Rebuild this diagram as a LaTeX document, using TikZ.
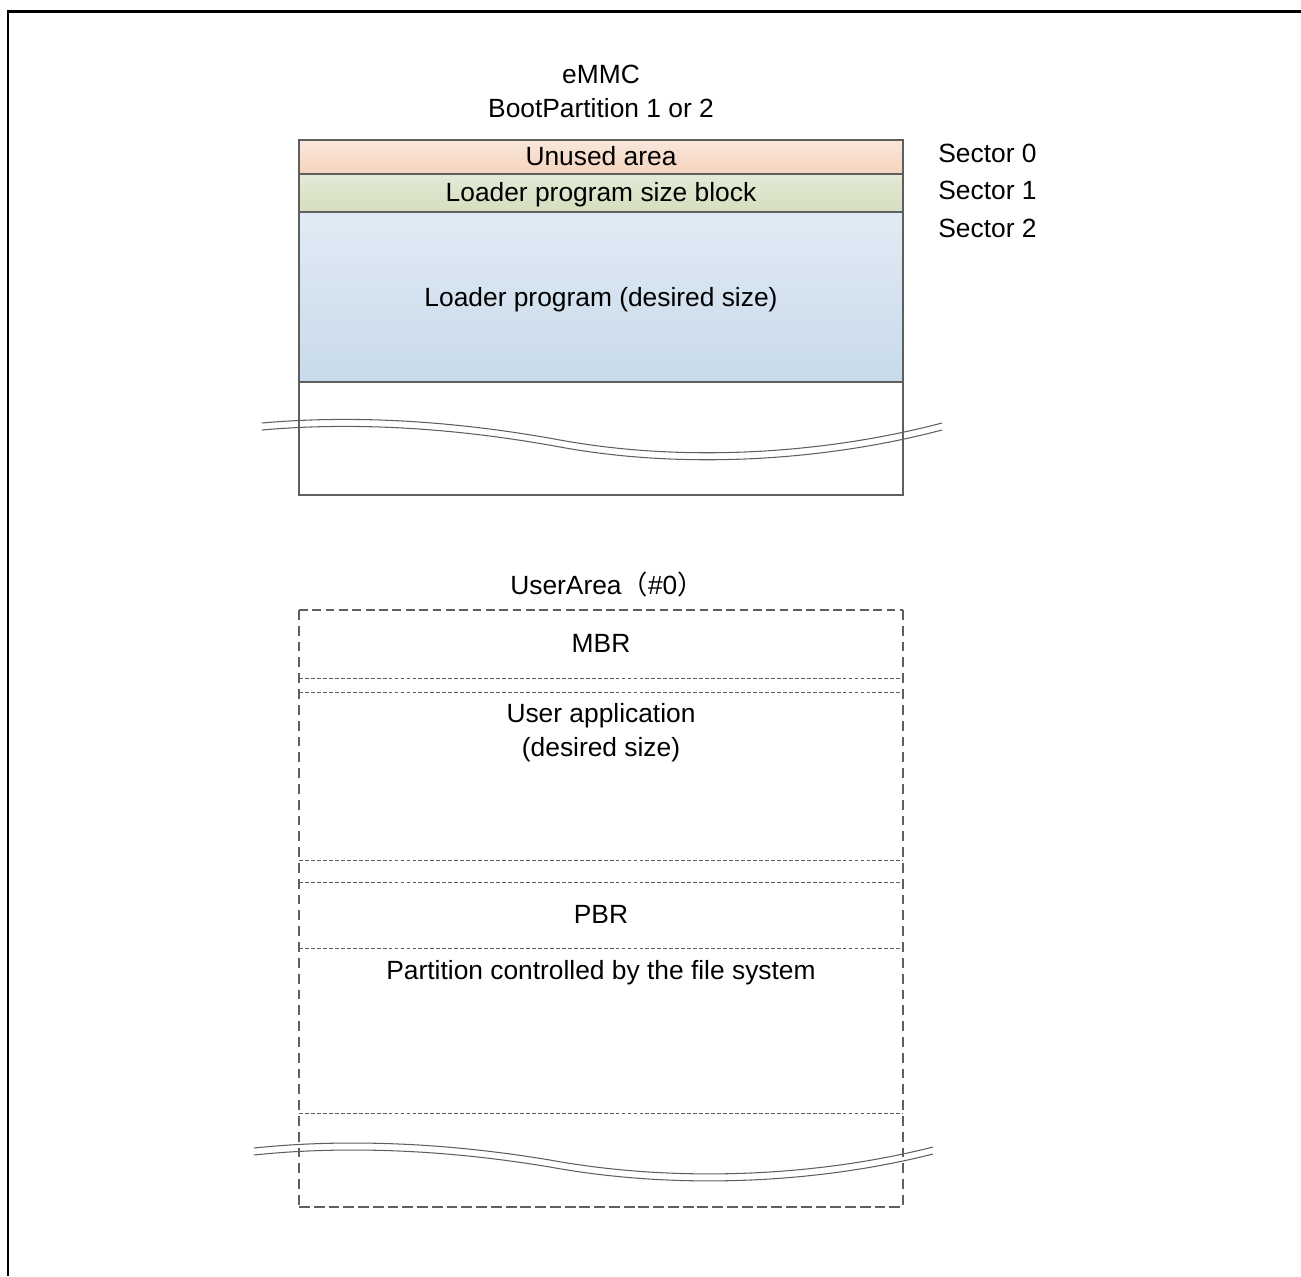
\documentclass[tikz,border=0pt]{standalone}
\usepackage{fontspec}
\setmainfont{Liberation Sans}
\newfontfamily\cjk{Noto Sans CJK JP}
\usepackage{tikz}
\usetikzlibrary{positioning}
\usepackage{xcolor}
\definecolor{edgegray}{HTML}{5F5F5F}
\definecolor{unusedtop}{HTML}{F9E7DC}
\definecolor{unusedbot}{HTML}{F5D3BD}
\definecolor{sizetop}{HTML}{E4EAD7}
\definecolor{sizebot}{HTML}{D5DEBE}
\definecolor{loadtop}{HTML}{E1EBF5}
\definecolor{loadbot}{HTML}{C8DAEA}

\tikzset{
    lbl/.style={font=\fontsize{15}{18.8}\selectfont, inner sep=0pt, align=center, anchor=base},
    solidbox/.style={draw=edgegray, line width=0.6pt},
    dashbox/.style={draw=edgegray, line width=0.6pt, dash pattern=on 5pt off 2.6pt},
    fineline/.style={draw=edgegray, line width=0.5pt, dash pattern=on 2.2pt off 1.2pt},
    wave/.style={draw=edgegray, line width=0.6pt}
}

\begin{document}
\begin{tikzpicture}[x=0.02cm, y=-0.02cm]
    \useasboundingbox (0,0) rectangle (1301,1276);
    \draw[line width=1.7pt] (8,1276) -- (8,11) -- (1301,11);

    % boot partition
    \shade[top color=unusedtop, bottom color=unusedbot] (299,140) rectangle (903,174);
    \shade[top color=sizetop, bottom color=sizebot] (299,174) rectangle (903,212);
    \shade[top color=loadtop, bottom color=loadbot] (299,212) rectangle (903,382);
    \draw[solidbox] (299,140) rectangle (903,495);
    \draw[solidbox] (299,174) -- (903,174) (299,212) -- (903,212) (299,382) -- (903,382);
    \foreach \dy in {0,7}
        \draw[wave, shift={(0,\dy)}] (262,423) .. controls (340,416) and (440,418) .. (560,440)
            .. controls (680,462) and (820,455) .. (942,423);

    \node[lbl] (emmc) at (601,117) {eMMC\\BootPartition 1 or 2};
    \node[lbl] (unused) at (601,165) {Unused area};
    \node[lbl] (sizeblk) at (601,201) {Loader program size block};
    \node[lbl] (loader) at (601,306) {Loader program (desired size)};
    \node[lbl, anchor=base west] (sec0) at (938,162) {Sector 0};
    \node[lbl, anchor=base west] (sec1) at (938,199) {Sector 1};
    \node[lbl, anchor=base west] (sec2) at (938,237) {Sector 2};

    % user area
    \draw[dashbox] (299,610) -- (903,610);
    \draw[dashbox, dash pattern=on 6.2pt off 2.2pt] (299,1207) -- (903,1207);
    \draw[dashbox, dash pattern=on 5.6pt off 3.4pt] (299,610) -- (299,1207) (903,610) -- (903,1207);
    \foreach \ly in {678,692,860,882,948,1113}
        \draw[fineline] (299,\ly) -- (903,\ly);
    \foreach \dy in {0,7}
        \draw[wave, shift={(0,\dy)}] (254,1148) .. controls (330,1140) and (430,1140) .. (550,1160)
            .. controls (670,1182) and (810,1178) .. (933,1147);

    \node[lbl] (userarea) at (607,594) {UserArea{\cjk （}\#0{\cjk ）}};
    \node[lbl] (mbr) at (601,652) {MBR};
    \node[lbl] (userapp) at (601,756) {User application\\(desired size)};
    \node[lbl] (pbr) at (601,923) {PBR};
    \node[lbl] (fsys) at (601,979) {Partition controlled by the file system};
\end{tikzpicture}
\end{document}
